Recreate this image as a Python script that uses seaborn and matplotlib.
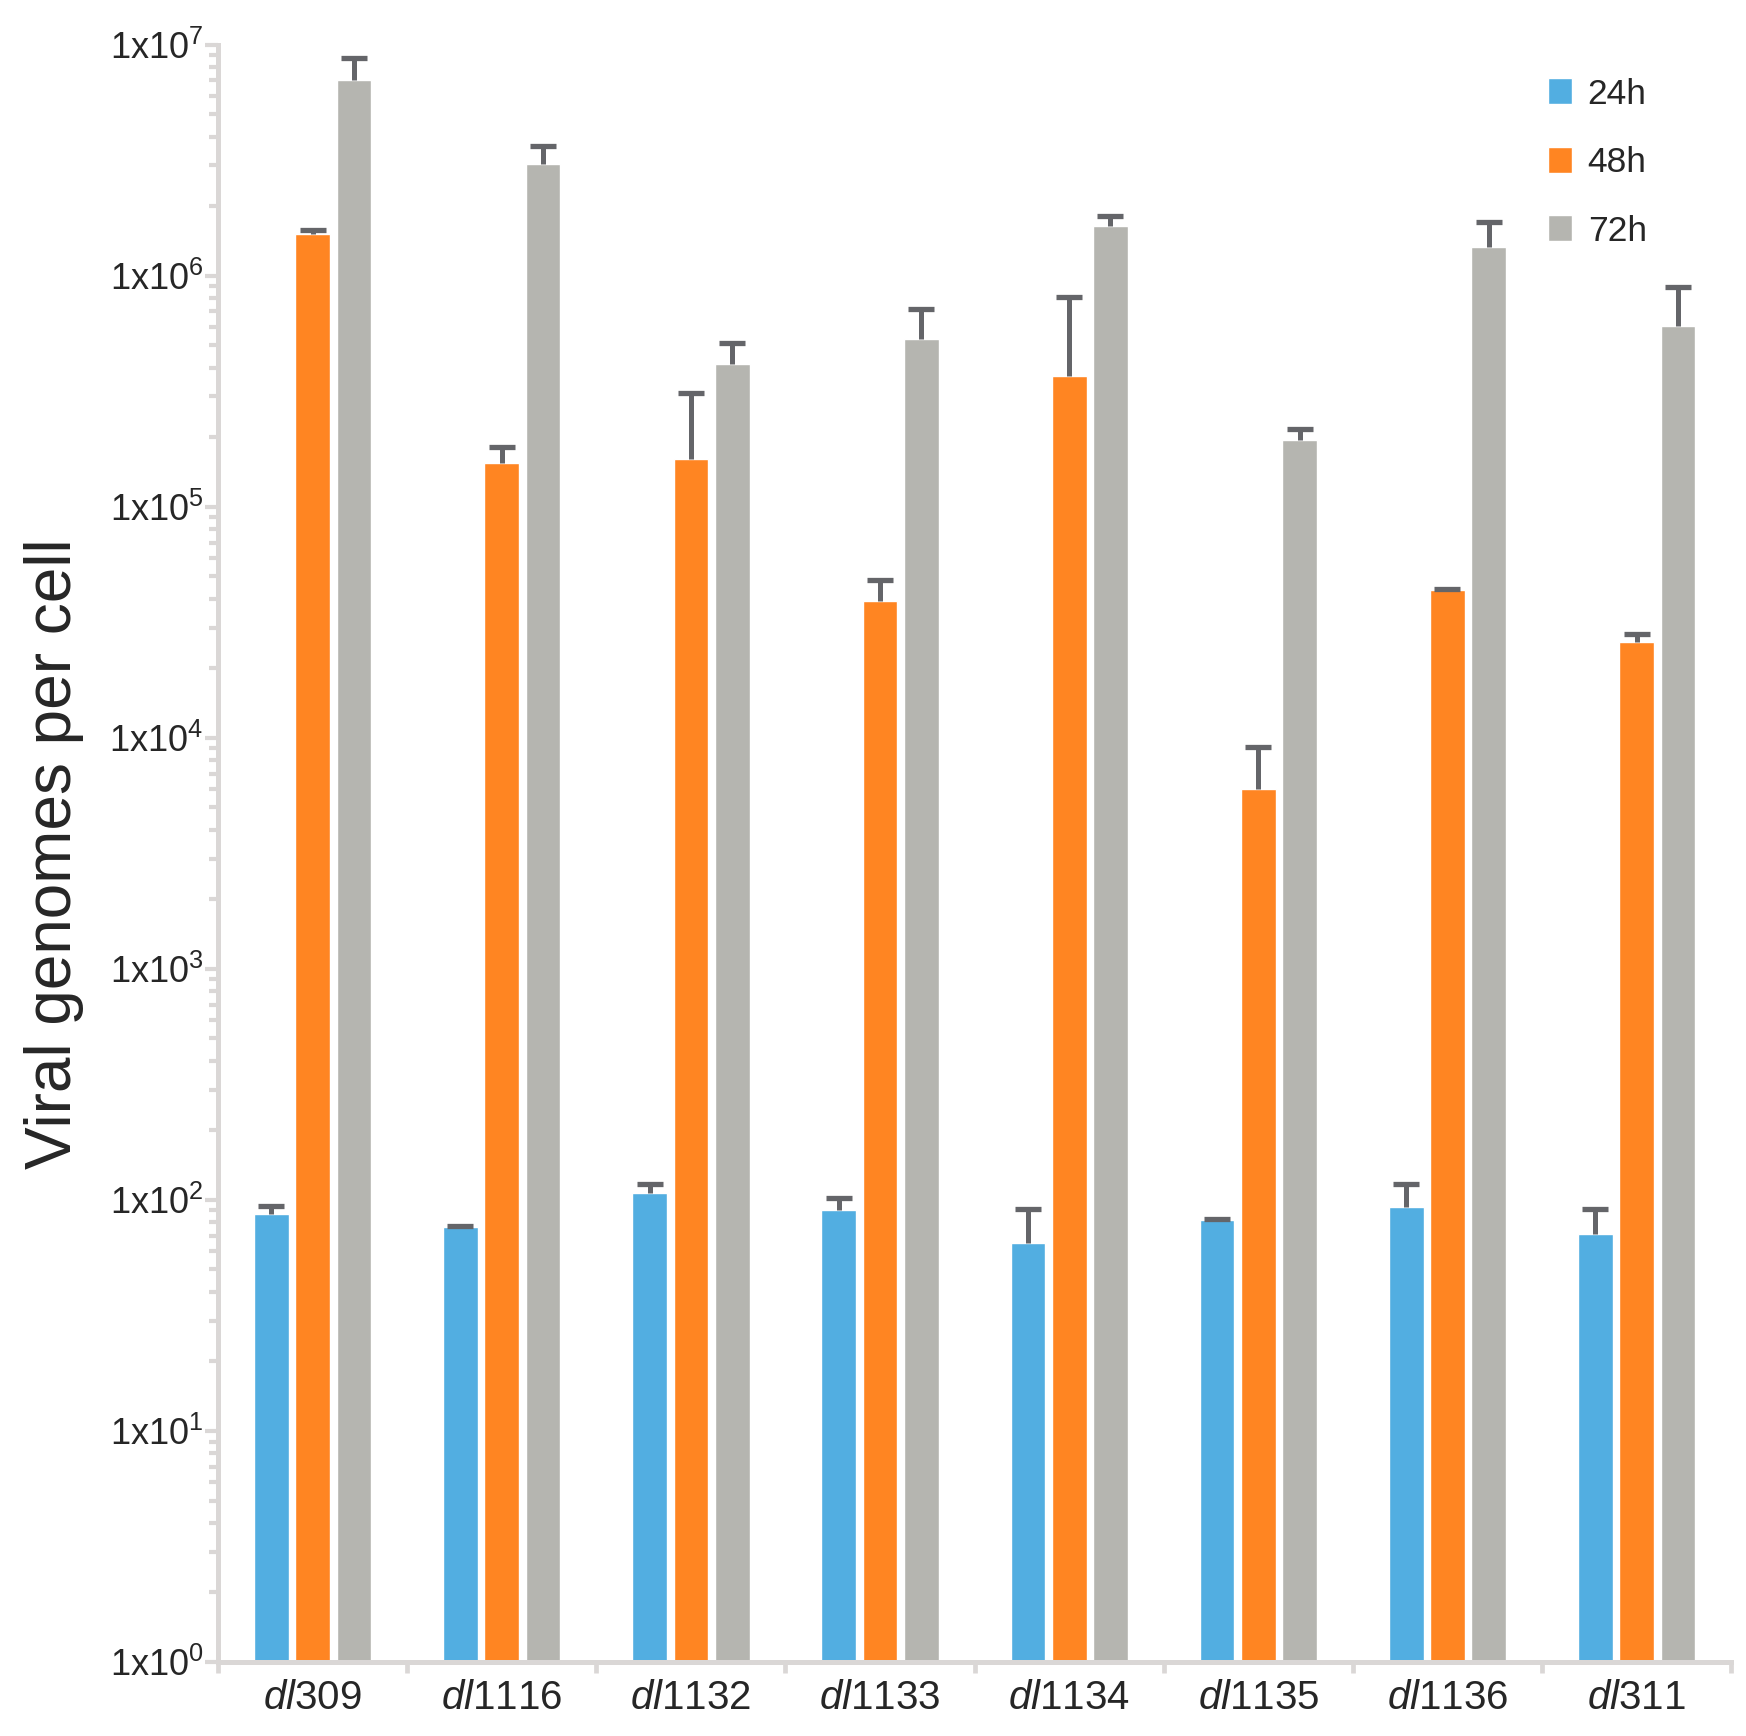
import numpy as np
import pandas as pd
import matplotlib
matplotlib.use('Agg')
import matplotlib.pyplot as plt
import matplotlib.ticker as mticker
import seaborn as sns

# data
strains = ['309', '1116', '1132', '1133', '1134', '1135', '1136', '311']
times = ['24h', '48h', '72h']
mean_24h = [87, 76.5, 107, 90, 65, 82, 93, 71]
mean_48h = [1.52e6, 1.54e5, 1.61e5, 3.9e4, 3.67e5, 6.0e3, 4.36e4, 2.59e4]
mean_72h = [7.0e6, 3.05e6, 4.14e5, 5.3e5, 1.64e6, 1.95e5, 1.33e6, 6.04e5]
# top of the (upper only) error bars
err_24h = [94, 77.5, 117, 102, 91, 83, 117, 91]
err_48h = [1.57e6, 1.82e5, 3.1e5, 4.8e4, 8.06e5, 9.1e3, 4.4e4, 2.8e4]
err_72h = [8.75e6, 3.65e6, 5.1e5, 7.2e5, 1.81e6, 2.18e5, 1.71e6, 8.9e5]
colors = ['#52AEE1', '#FF8522', '#B5B5B0']

means = [mean_24h, mean_48h, mean_72h]
tops = [err_24h, err_48h, err_72h]
df = pd.DataFrame({
    'strain': [s for t in times for s in strains],
    'time': [t for t in times for s in strains],
    'value': [v for m in means for v in m],
})

sns.set_style('white')
plt.rcParams['font.family'] = ['Liberation Sans', 'DejaVu Sans']
plt.rcParams['mathtext.fontset'] = 'custom'
plt.rcParams['mathtext.rm'] = 'Liberation Sans'
plt.rcParams['mathtext.it'] = 'Liberation Sans:italic'

axis_col = '#DAD7D6'
fig = plt.figure(figsize=(17.46, 17.36), dpi=100)
ax = fig.add_axes([0.1249, 0.0426, 0.8666, 0.9317])

sns.barplot(data=df, x='strain', y='value', hue='time', order=strains,
            hue_order=times, palette=colors, saturation=1, width=0.655,
            gap=0.16, errorbar=None, ax=ax)
ax.set_yscale('log')

# upper error bars at the bar centres, no lower cap
for i, t in enumerate(times):
    cont = ax.containers[i]
    xs = [p.get_x() + p.get_width() / 2 for p in cont.patches]
    m = np.array(means[i])
    up = np.array(tops[i]) - m
    eb = ax.errorbar(xs, m, yerr=[np.zeros_like(m), up], fmt='none',
                     ecolor='#646569', elinewidth=3.6, capsize=9.4,
                     capthick=3.8, zorder=1)
    eb[1][0].set_visible(False)

ax.set_ylim(1, 1e7)
ax.set_xlim(-0.5, 7.5)

ax.yaxis.set_major_locator(mticker.LogLocator(base=10, numticks=20))
ax.yaxis.set_minor_locator(mticker.LogLocator(base=10, subs=np.arange(2, 10), numticks=100))
ax.yaxis.set_major_formatter(mticker.FuncFormatter(
    lambda v, p: r'1x10$^{%d}$' % int(round(np.log10(v)))))
ax.yaxis.set_minor_formatter(mticker.NullFormatter())
ax.tick_params(axis='y', which='major', direction='out', length=9.5, width=3,
               color=axis_col, labelsize=26, pad=1, left=True)
ax.tick_params(axis='y', which='minor', direction='out', length=6.5, width=3,
               color=axis_col, left=True)

ax.set_xticks(range(len(strains)))
ax.set_xticklabels([r'$\mathit{dl}$' + s for s in strains])
ax.set_xticks(np.arange(-0.5, len(strains)), minor=True)
ax.tick_params(axis='x', which='major', length=0, labelsize=29, pad=12)
ax.tick_params(axis='x', which='minor', direction='out', length=8, width=3.4,
               color=axis_col, bottom=True)

for side in ['top', 'right']:
    ax.spines[side].set_visible(False)
for side in ['left', 'bottom']:
    ax.spines[side].set_color(axis_col)
    ax.spines[side].set_linewidth(3.6)

ax.set_xlabel('')
ax.set_ylabel('Viral genomes per cell', fontsize=46, labelpad=18)

ax.legend(frameon=False, loc='upper left',
          bbox_to_anchor=(1530 / 1746, 1 - 60 / 1736),
          bbox_transform=fig.transFigure, fontsize=25.5, borderpad=0,
          handlelength=0.68, handleheight=0.75, labelspacing=1.0,
          handletextpad=0.45)

fig.savefig('out.png', dpi=100)
